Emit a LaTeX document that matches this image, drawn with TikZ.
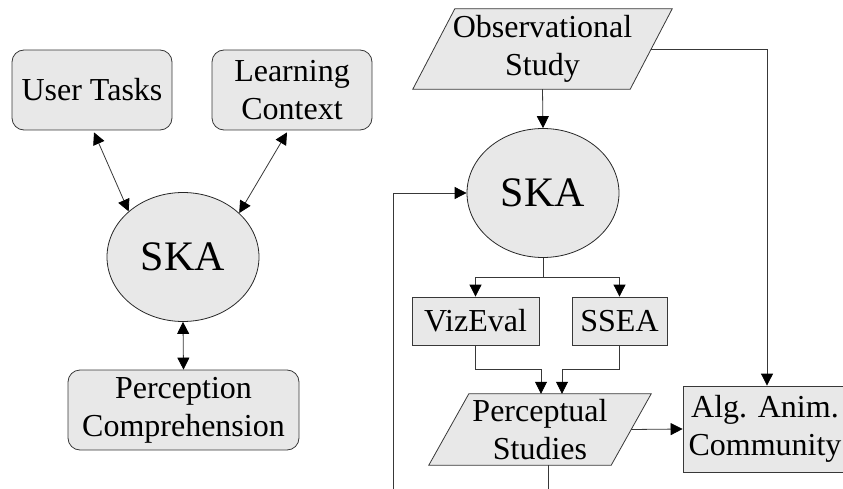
\documentclass[tikz,border=0pt]{standalone}
\usepackage{fontspec}
\setmainfont{Liberation Serif}
\usetikzlibrary{arrows.meta,shapes.geometric,calc,backgrounds}
\definecolor{boxfill}{HTML}{E8E8E8}
\definecolor{edge}{HTML}{383838}
\tikzset{
  base/.style={draw=edge, line width=0.8pt, fill=boxfill, align=center,
    font=\fontsize{32}{38}\selectfont, inner sep=0pt},
  roundbox/.style={base, rectangle, rounded corners=12pt},
  plainbox/.style={base, rectangle},
  hub/.style={base, ellipse, draw=black!85, minimum width=152pt, minimum height=129pt,
    font=\fontsize{42}{46}\selectfont},
  slanttext/.style={rectangle, align=center, inner sep=0pt,
    font=\fontsize{32}{38}\selectfont},
  link/.style={draw=edge, line width=0.8pt},
  tip/.style={-{Triangle[length=12pt,width=12pt,color=black]}},
  twotip/.style={{Triangle[length=12pt,width=12pt,color=black]}-{Triangle[length=12pt,width=12pt,color=black]}},
}
\begin{document}
\begin{tikzpicture}[x=1pt, y=-1pt]
\useasboundingbox (0,0) rectangle (843,489);
\clip (0,0) rectangle (843,489);

% ---- left: SKA with its three influences ----
\node[roundbox, minimum width=160pt, minimum height=80pt] (ut) at (92,90) {User Tasks};
\node[roundbox, minimum width=160pt, minimum height=80pt] (lc) at (292,90) {Learning\\Context};
\node[hub] (ska1) at (183,257) {SKA};
\node[roundbox, minimum width=231pt, minimum height=80pt] (pc) at (183.5,410) {Perception\\Comprehension};

\draw[link, twotip] ($(ut.south)+(2,2)$) -- (ska1.140);
\draw[link, twotip] ($(lc.south)+(-5,2)$) -- (ska1.38);
\draw[link, twotip] (ska1.south) -- (pc.north);

% ---- right: research cycle ----
\node[slanttext, minimum width=217pt, minimum height=80pt] (obs) at (542.5,49) {Observational\\Study};
\node[hub] (ska2) at (543,193) {SKA};
\node[plainbox, minimum width=127pt, minimum height=48pt] (viz) at (475.5,321) {VizEval};
\node[plainbox, minimum width=95pt, minimum height=48pt] (ssea) at (619.5,321) {SSEA};
\node[slanttext, minimum width=182pt, minimum height=71pt] (perc) at (540,429.5) {Perceptual\\Studies};
\node[plainbox, minimum width=164pt, minimum height=86pt] (alg) at (765,429) {Alg. Anim.\\Community};

% parallelogram outlines behind the slanted labels
\begin{scope}[on background layer]
  \filldraw[link, fill=boxfill]
    ($(obs.south west)+(-21,0)$) -- ($(obs.north west)+(21,0)$) --
    ($(obs.north east)+(21,0)$) -- ($(obs.south east)+(-21,0)$) -- cycle;
  \filldraw[link, fill=boxfill]
    ($(perc.south west)+(-20,0)$) -- ($(perc.north west)+(20,0)$) --
    ($(perc.north east)+(20,0)$) -- ($(perc.south east)+(-20,0)$) -- cycle;
\end{scope}

\draw[link, tip] (obs.south) -- (ska2.north);
\draw[link, tip] (obs.east) -| ([xshift=2pt]alg.north);
\draw[link, tip] (ska2.south) -- ++(0,19) coordinate (split) -| (viz.north);
\draw[link, tip] (split) -| (ssea.north);
\draw[link, tip] (viz.south) -- ++(0,24) -| ([xshift=1pt]perc.north);
\draw[link, tip] (ssea.south) -- ++(0,24) -| ([xshift=22pt]perc.north);
\draw[link, tip] (perc.east) -- (alg.west);

% feedback loop from the studies back into SKA
\coordinate (back) at (393,505);
\draw[link, tip] ([xshift=8pt]perc.south) |- (back) |- (ska2.west);
\end{tikzpicture}
\end{document}
